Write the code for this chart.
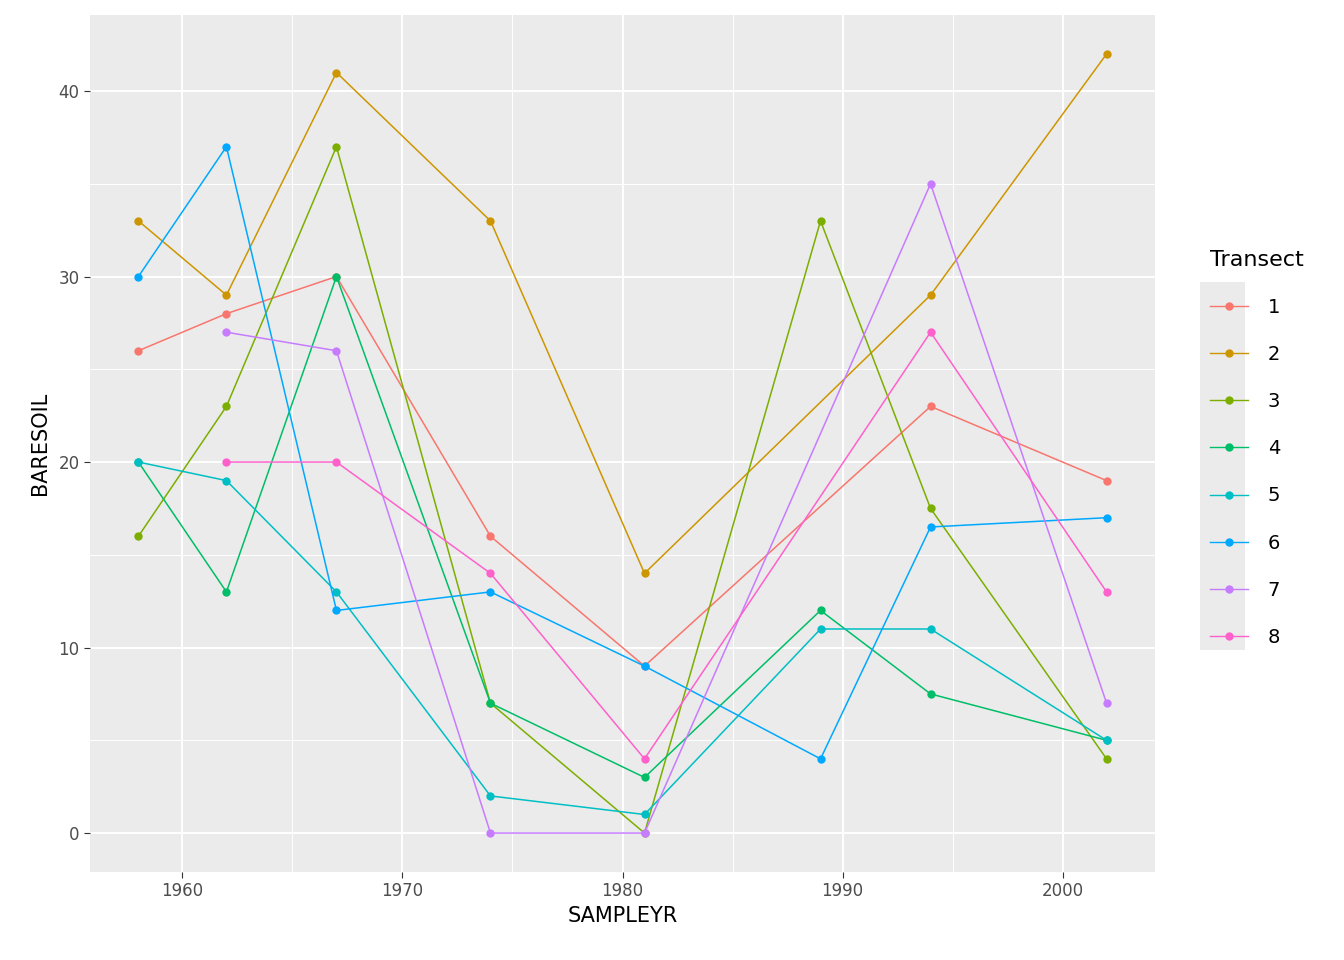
import numpy as np, pandas as pd, seaborn as sns, matplotlib
matplotlib.use("Agg")
import matplotlib.pyplot as plt
from matplotlib.ticker import MultipleLocator
from matplotlib.lines import Line2D
from matplotlib.patches import Rectangle

years = [1958, 1962, 1967, 1974, 1981, 1989, 1994, 2002]
nan = np.nan
t1 = [26, 28, 30, 16, 9, nan, 23, 19]
t2 = [33, 29, 41, 33, 14, nan, 29, 42]
t3 = [16, 23, 37, 7, 0, 33, 17.5, 4]
t4 = [20, 13, 30, 7, 3, 12, 7.5, 5]
t5 = [20, 19, 13, 2, 1, 11, 11, 5]
t6 = [30, 37, 12, 13, 9, 4, 16.5, 17]
t7 = [nan, 27, 26, 0, 0, nan, 35, 7]
t8 = [nan, 20, 20, 14, 4, nan, 27, 13]
transects = ["1", "2", "3", "4", "5", "6", "7", "8"]
series = [t1, t2, t3, t4, t5, t6, t7, t8]
colors = ["#F8766D", "#CD9600", "#7CAE00", "#00BE67", "#00BFC4", "#00A9FF", "#C77CFF", "#FF61CC"]

rows = []
for t, vals in zip(transects, series):
    for y, v in zip(years, vals):
        if not np.isnan(v):
            rows.append((y, v, t))
df = pd.DataFrame(rows, columns=["SAMPLEYR", "BARESOIL", "Transect"])

fig = plt.figure(figsize=(13.44, 9.6), dpi=100)
ax = fig.add_axes([90/1344, 88/960, (1155-90)/1344, (872-15)/960])
ax.set_facecolor("#EBEBEB")
sns.lineplot(data=df, x="SAMPLEYR", y="BARESOIL", hue="Transect", palette=colors,
             estimator=None, marker="o", markersize=6, markeredgewidth=0, lw=1.1,
             ax=ax, legend=False, zorder=3)
ax.set_xlim(1955.8, 2004.2)
ax.set_ylim(-2.1, 44.1)
ax.xaxis.set_major_locator(MultipleLocator(10))
ax.xaxis.set_minor_locator(MultipleLocator(5))
ax.yaxis.set_major_locator(MultipleLocator(10))
ax.yaxis.set_minor_locator(MultipleLocator(5))
ax.grid(which="major", color="white", lw=1.4)
ax.grid(which="minor", color="white", lw=0.7)
ax.set_axisbelow(True)
for s in ax.spines.values():
    s.set_visible(False)
ax.tick_params(which="major", length=4, color="#333333", labelsize=12, labelcolor="#4D4D4D")
ax.tick_params(which="minor", length=0)
ax.set_xlabel("SAMPLEYR", fontsize=15)
ax.set_ylabel("BARESOIL", fontsize=15, labelpad=6)

fig.patches.append(Rectangle((1200/1344, 1-650/960), 45/1344, 368/960,
                             transform=fig.transFigure, facecolor="#EBEBEB", edgecolor="none", zorder=0))
handles = [Line2D([0], [0], color=c, marker="o", markersize=6, markeredgewidth=0, lw=1) for c in colors]
leg = fig.legend(handles, transects, title="Transect", loc="upper left",
                 bbox_to_anchor=(1192/1344, 1-232/960), frameon=False, fontsize=14,
                 title_fontsize=16, handlelength=2, handletextpad=1.0,
                 labelspacing=1.45, alignment="left")
fig.savefig("out.png", dpi=100, facecolor="white")
